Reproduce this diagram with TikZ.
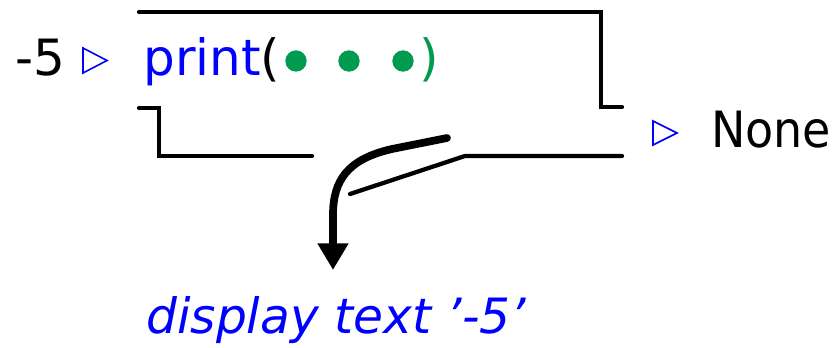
\documentclass[tikz,border=0pt]{standalone}
\usepackage{fontspec}
\setmainfont{DejaVu Sans}
\usetikzlibrary{arrows.meta}
\definecolor{codeblue}{RGB}{0,0,255}
\definecolor{codegreen}{RGB}{0,155,80}
\begin{document}
\begin{tikzpicture}[x=0.75pt,y=-0.75pt,
  txt/.style={anchor=base west,inner sep=0pt,font=\fontsize{37.5}{45}\selectfont},
  brk/.style={line width=3.2pt,line cap=round,line join=miter},
  tri/.style={draw=codeblue,line width=1.2pt,line join=miter},
  dot/.style={circle,fill=codegreen,inner sep=0pt,minimum size=16pt},
  bigarrow/.style={line width=5.8pt,line cap=round,-{Triangle[length=20pt,width=22pt]}}]
\useasboundingbox (0,0) rectangle (840,347);
% texts
\node[txt] (val) at (15,75) {-5};
\node[txt] (call) at (143,75) {\textcolor{codeblue}{print}(};
\node[dot] (d1) at (296,61) {};
\node[dot] (d2) at (349,61) {};
\node[dot] (d3) at (403,61) {};
\node[txt,text=codegreen] (close) at (419,75) {)};
\node[txt] (none) at (711,147) {\scalebox{0.92}[1]{None}};
\node[txt,text=codeblue,font=\fontsize{36.5}{45}\selectfont\itshape] (disp) at (146,333) {display text '-5'};
% triangles
\draw[tri] (83,48) -- (107,60.5) -- (83,73) -- cycle;
\draw[tri] (653,121) -- (677,133) -- (653,145) -- cycle;
% bracket lines
\coordinate (tl) at (139,12);
\coordinate (tr) at (601,12);
\coordinate (rb) at (601,107);
\coordinate (re) at (622,107);
\coordinate (ls) at (139,108);
\coordinate (lc) at (159,108);
\coordinate (lb) at (159,156);
\coordinate (le) at (312,156);
\coordinate (rs) at (465,156);
\coordinate (rend) at (622,156);
\coordinate (diag) at (350,194);
\draw[brk] (tl) -- (tr) -- (rb) -- (re);
\draw[brk] (ls) -- (lc) -- (lb) -- (le);
\draw[brk] (diag) -- (rs) -- (rend);
% arrow
\coordinate (as) at (447,138);
\coordinate (am) at (392,149);
\coordinate (at) at (333,270);
\draw[bigarrow] (as) -- (am) .. controls (348,159) and (333,180) .. (333,215) -- (at);
\end{tikzpicture}
\end{document}
